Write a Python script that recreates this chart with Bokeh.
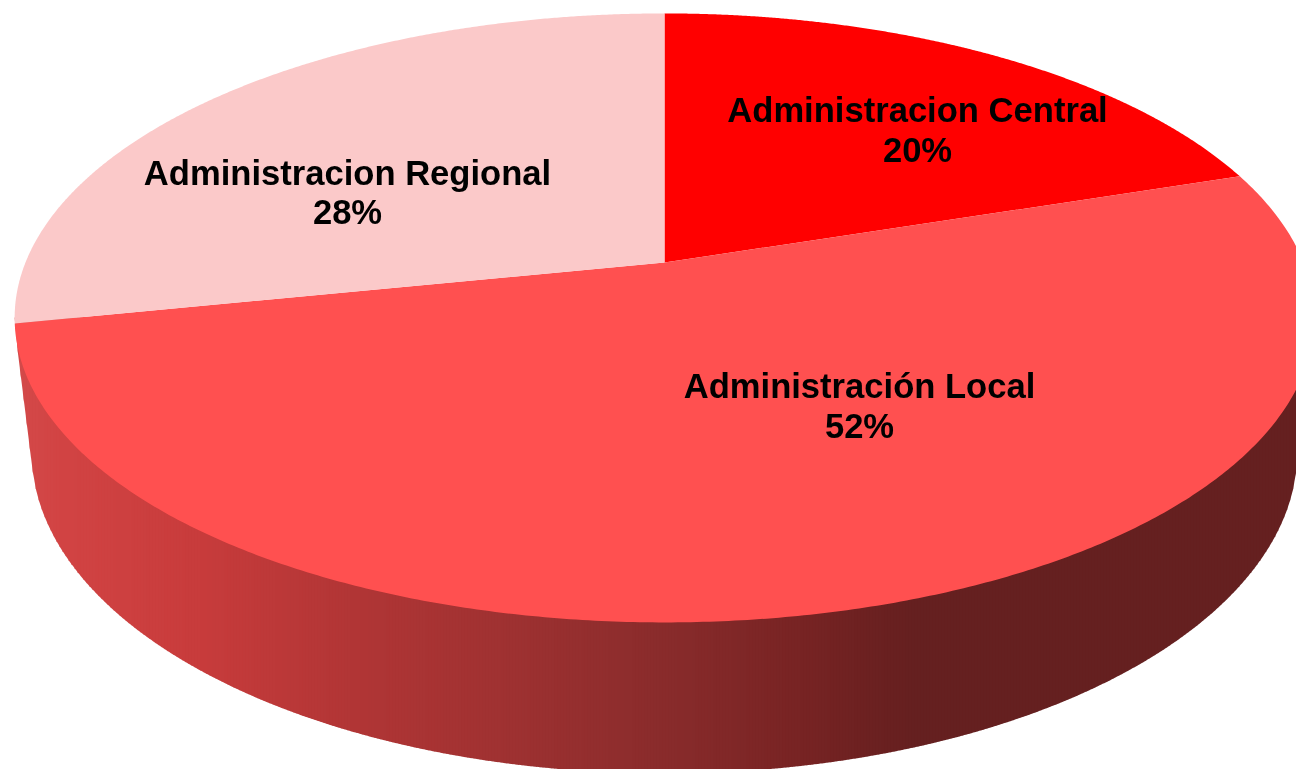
import numpy as np
from bokeh.plotting import figure
from bokeh.models import Range1d
from bokeh.core.properties import value
from bokeh.embed import file_html
from bokeh.resources import INLINE

categories = ["Administracion Central", "Administración Local", "Administracion Regional"]
shares = [20, 51.8, 28.2]
colors = ["#ff0000", "#ff5050", "#fbc9c9"]
label_x = [917, 859, 347]
label_y = [109.5, 385.5, 172]

W, H = 1296, 769
CX, APEX_Y = 664, 262
A, B, K = 639, 294.4, 0.182          # perspective projection of the top disc
LOW_A, LOW_CY, LOW_B = 633, 451, 322  # bottom rim ellipse


def project(theta):
    u, v = np.sin(theta), np.cos(theta)
    w = 1 + K * v
    return CX + A * u / w, APEX_Y - B * v / w


p = figure(width=W, height=H, output_backend="svg", toolbar_location=None,
           x_range=Range1d(0, W), y_range=Range1d(H, 0), min_border=0,
           outline_line_color=None, background_fill_color="white",
           border_fill_color="white")
p.axis.visible = False
p.grid.visible = False
p.styles = {"position": "fixed", "left": "0", "top": "0"}

# side wall: hull of the top rim and the bottom rim, shaded in vertical strips
t = np.linspace(0, 2 * np.pi, 1441)
tx, ty = project(t)
bx = CX + LOW_A * np.sin(t)
by = LOW_CY - LOW_B * np.cos(t)
pts = sorted(zip(np.r_[tx, bx].tolist(), np.r_[ty, by].tolist()))
hull = []
for q in pts:
    while len(hull) >= 2 and (hull[-1][0] - hull[-2][0]) * (q[1] - hull[-2][1]) - (hull[-1][1] - hull[-2][1]) * (q[0] - hull[-2][0]) >= 0:
        hull.pop()
    hull.append(q)
hx, hy = np.array(hull).T

stop_x = [14, 60, 200, 350, 500, 660, 800, 910, 1320]
stop_r = [212, 210, 200, 178, 160, 138, 120, 102, 101]
stop_g = [74, 68, 60, 54, 50, 44, 36, 32, 32]
step = 3
xs, ys, fills = [], [], []
for x0 in np.arange(hx.min(), hx.max(), step):
    x1 = min(x0 + step + 0.6, hx.max())
    xs.append([x0, x1, x1, x0])
    ys.append([317, 317, np.interp(x1, hx, hy), np.interp(x0, hx, hy)])
    xm = x0 + step / 2
    r, g = int(np.interp(xm, stop_x, stop_r)), int(np.interp(xm, stop_x, stop_g))
    fills.append(f"#{r:02x}{g:02x}{g:02x}")
p.patches(xs, ys, fill_color=fills, line_color=None)

# top face
edges = np.r_[0, np.cumsum(shares)] / sum(shares) * 2 * np.pi
for a0, a1, c in zip(edges[:-1], edges[1:], colors):
    th = np.linspace(a0, a1, 400)
    x, y = project(th)
    p.patch(np.r_[CX, x], np.r_[APEX_Y, y], fill_color=c, line_color=None)

# labels
font = value("Liberation Sans")
p.text(label_x, label_y, text=categories, text_font=font, text_font_style="bold",
       text_font_size="34.6px", text_color="black", text_align="center", text_baseline="middle")
p.text(label_x, [v + 39.5 for v in label_y], text=[f"{round(s)}%" for s in shares], text_font=font,
       text_font_style="bold", text_font_size="34.6px", text_color="black",
       text_align="center", text_baseline="middle")

open("out.html", "w").write(file_html(p, INLINE))
